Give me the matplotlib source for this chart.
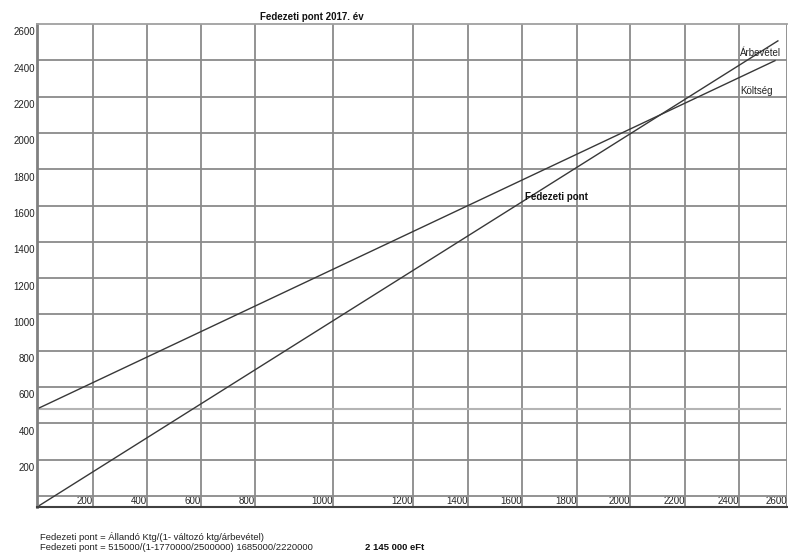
import numpy as np
import matplotlib
matplotlib.use("Agg")
import matplotlib.pyplot as plt
from matplotlib.ticker import FixedLocator

plt.rcParams['font.family'] = ['Liberation Sans', 'DejaVu Sans']

# ---- data -------------------------------------------------------------
title = "Fedezeti pont 2017. év"
x_ticks = [200, 400, 600, 800, 1000, 1200, 1400, 1600, 1800, 2000, 2200, 2400, 2600]
y_ticks = [200, 400, 600, 800, 1000, 1200, 1400, 1600, 1800, 2000, 2200, 2400, 2600]
x_tick_labels = [str(v) for v in x_ticks]
y_tick_labels = [str(v) for v in y_ticks]

# the drawn x axis is unevenly spaced: value -> relative position on the axis
x_axis_values = [0, 200, 400, 600, 800, 1000, 1200, 1400, 1600, 1800, 2000, 2200, 2400, 2600]
x_axis_positions = [0, 56, 110, 164, 218, 296, 376, 431, 485, 540, 593, 648, 702, 750]

revenue_x = [0, 2562]
revenue_y = [-20, 2548]
cost_x = [0, 2550]
cost_y = [520, 2439]
fixed_x = [0, 2575]
fixed_y = [520, 520]

breakeven_label_xy = (1611, 1688)
revenue_label_xy = (2404, 2481)
cost_label_xy = (2404, 2273)

formula_1 = "Fedezeti pont = Állandó Ktg/(1- változó ktg/árbevétel)"
formula_2 = "Fedezeti pont = 515000/(1-1770000/2500000) 1685000/2220000"
result = "2 145 000 eFt"

# ---- figure -----------------------------------------------------------
W, H = 788, 554
fig = plt.figure(figsize=(W / 100, H / 100), dpi=100)
ax = fig.add_axes([37 / W, 1 - 507 / H, 750 / W, (507 - 24) / H])


def fwd(v):
    return np.interp(v, x_axis_values, x_axis_positions)


def inv(p):
    return np.interp(p, x_axis_positions, x_axis_values)


ax.set_xscale('function', functions=(fwd, inv))
ax.set_xlim(0, 2600)
ax.set_ylim(-20, 2641)

grid_col = '#8a8a8a'
line_col = '#383838'

# grid
ax.set_xticks(x_ticks)
ax.set_xticklabels(x_tick_labels, ha='right')
ax.set_yticks(y_ticks)
ax.set_yticklabels(y_tick_labels)
ax.yaxis.set_minor_locator(FixedLocator([v + 41 for v in [0] + y_ticks[:-1]]))
ax.xaxis.grid(True, which='major', color=grid_col, lw=1.3)
ax.yaxis.grid(True, which='minor', color=grid_col, lw=1.3)
ax.yaxis.grid(False, which='major')
ax.set_axisbelow(True)

ax.tick_params(axis='both', which='both', length=0, labelsize=7, colors='#222222')
ax.tick_params(axis='x', pad=-7.8)
ax.tick_params(axis='y', pad=1.5)

ax.spines['right'].set_visible(False)
ax.spines['top'].set_color('#a0a0a0')
ax.spines['top'].set_linewidth(1.3)
ax.spines['left'].set_color('#808080')
ax.spines['left'].set_linewidth(2.0)
ax.spines['bottom'].set_color('#404040')
ax.spines['bottom'].set_linewidth(1.5)

# lines
ax.plot(fixed_x, fixed_y, color='#b4b4b4', lw=1.5, solid_capstyle='butt')
ax.plot(revenue_x, revenue_y, color=line_col, lw=1.0)
ax.plot(cost_x, cost_y, color=line_col, lw=1.0)

# labels
ax.text(*breakeven_label_xy, "Fedezeti pont", fontsize=7, fontweight='bold',
        ha='left', va='center', color='#111111')
ax.text(*revenue_label_xy, "Árbevétel", fontsize=7, ha='left', va='center', color='#222222')
ax.text(*cost_label_xy, "Költség", fontsize=7, ha='left', va='center', color='#222222')

fig.text(312 / W, 1 - 17 / H, title, fontsize=7, fontweight='bold', ha='center', va='center',
         color='#111111')

fig.text(40 / W, 1 - 537 / H, formula_1, fontsize=6.8, ha='left', va='center', color='#222222')
fig.text(40 / W, 1 - 547 / H, formula_2, fontsize=6.8, ha='left', va='center', color='#222222')
fig.text(365 / W, 1 - 547 / H, result, fontsize=6.8, fontweight='bold', ha='left', va='center',
         color='#111111')

fig.savefig("out.png", dpi=100)
